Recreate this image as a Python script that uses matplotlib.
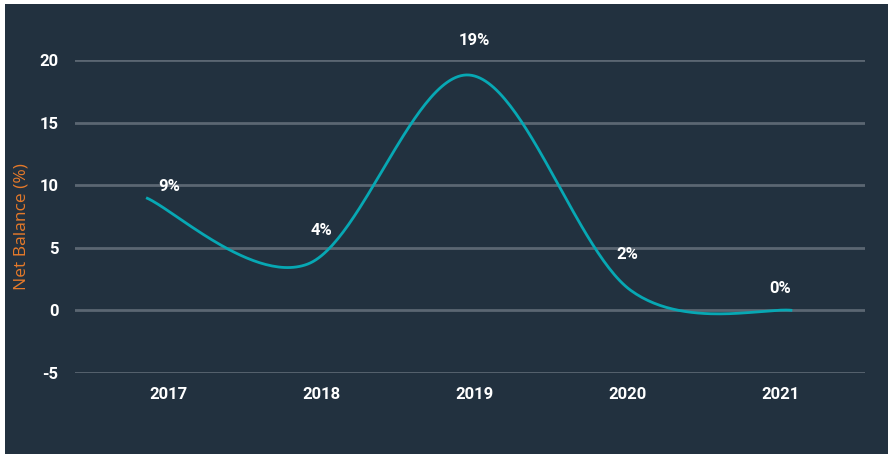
import numpy as np
import matplotlib.pyplot as plt
from matplotlib.patches import Rectangle

plt.rcParams['axes.unicode_minus'] = False

# net balance by year
years = ['2017', '2018', '2019', '2020', '2021']
net_balance = [9.0, 3.7, 18.8, 1.6, 0.0]
label_offsets = [11, 34, 35, 36, 22]   # pixels above the line for the value labels

bg = '#22313f'
grid_col = '#5b6672'
line_col = '#07a8b4'
orange = '#e67a2a'


def cardinal(px, py, n=60):
    '''catmull-rom style bezier through the points, end points doubled'''
    P = np.column_stack([px, py]).astype(float)
    Q = np.vstack([P[:1], P, P[-1:]])
    t = np.linspace(0, 1, n)[:, None]
    out = []
    for i in range(1, len(Q) - 2):
        a = Q[i]
        b = Q[i] + (Q[i + 1] - Q[i - 1]) / 6
        c = Q[i + 1] - (Q[i + 2] - Q[i]) / 6
        d = Q[i + 1]
        seg = (1 - t)**3 * a + 3 * (1 - t)**2 * t * b + 3 * (1 - t) * t**2 * c + t**3 * d
        out.append(seg if i == 1 else seg[1:])
    out = np.vstack(out)
    return out[:, 0], out[:, 1]


W, H = 888, 454
fig = plt.figure(figsize=(W / 100, H / 100), dpi=100)
fig.patch.set_facecolor('white')
fig.patches.append(Rectangle((5 / W, 0), 1, 1 - 4 / H, transform=fig.transFigure,
                             facecolor=bg, edgecolor='none', zorder=-10))

ax = fig.add_axes([75 / W, 1 - 373 / H, (865 - 75) / W, (373 - 60) / H])
ax.set_facecolor('none')
ax.set_xlim(-0.44, 4.45)
ax.set_ylim(-5, 20)

x = np.arange(len(years))
sx, sy = cardinal(x, net_balance)
ax.plot(sx, sy, color=line_col, lw=2.0, zorder=3, solid_capstyle='butt')

# year labels and value labels sit on a slightly tighter spacing than the line
tick_pos = 0.14 + x * 0.946

for tp, v, off in zip(tick_pos, net_balance, label_offsets):
    ax.annotate('%.0f%%' % v, (tp, v), xytext=(0, off), textcoords='offset pixels',
                ha='center', va='center', color='white', fontsize=12,
                fontweight='bold', family='Roboto', annotation_clip=False, zorder=4)

ax.set_yticks([-5, 0, 5, 10, 15, 20])
ax.set_xticks(tick_pos)
ax.set_xticklabels(years)

ax.grid(axis='y', color=grid_col, lw=2.0)
ax.set_axisbelow(True)
for s in ax.spines.values():
    s.set_visible(False)
ax.tick_params(length=0, colors='white', labelsize=12)
ax.tick_params(axis='y', pad=12)
ax.tick_params(axis='x', pad=10)
for t in ax.get_xticklabels() + ax.get_yticklabels():
    t.set_fontweight('bold')
    t.set_family('Roboto')

fig.text(22 / W, 1 - 227 / H, 'Net Balance (%)', rotation=90, color=orange,
         fontsize=12.5, family='Open Sans', ha='center', va='center')

fig.savefig('out.png', dpi=100, facecolor=fig.get_facecolor())
